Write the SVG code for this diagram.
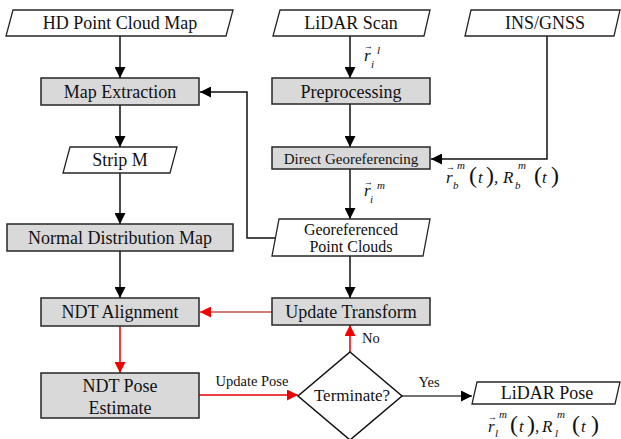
<svg xmlns="http://www.w3.org/2000/svg" width="621" height="439" viewBox="0 0 621 439" font-family="'Liberation Serif', 'DejaVu Serif', serif">
<style>
.box{fill:#d9d9d9;stroke:#262626;stroke-width:1.5}
.io{fill:#fff;stroke:#262626;stroke-width:1.3}
text{fill:#111}
.c{text-anchor:middle}
.f18{font-size:18px}
.f16{font-size:16px}
.f15{font-size:15px}
.f14{font-size:14.5px}
.mi{font-style:italic;font-size:17px}
.ms{font-style:italic;font-size:11px}
.pa{font-size:24px}
.va{font-size:9px}
.ln{fill:none;stroke:#111;stroke-width:1.5}
.rd{fill:none;stroke:#e60000;stroke-width:1.5}
</style>
<defs>
<marker id="ab" viewBox="0 0 12 11" refX="11" refY="5.5" markerWidth="12" markerHeight="11" orient="auto" markerUnits="userSpaceOnUse"><path d="M0,0 L11,5.5 L0,11 z" fill="#000"/></marker>
<marker id="ar" viewBox="0 0 12 11" refX="11" refY="5.5" markerWidth="12" markerHeight="11" orient="auto" markerUnits="userSpaceOnUse"><path d="M0,0 L11,5.5 L0,11 z" fill="#f00000"/></marker>
</defs>

<g id="connectors">
<line class="ln" x1="120" y1="36" x2="120" y2="78" marker-end="url(#ab)"/>
<line class="ln" x1="350" y1="36" x2="350" y2="78" marker-end="url(#ab)"/>
<polyline class="ln" points="547,36 547,159 431,159" marker-end="url(#ab)"/>
<line class="ln" x1="350" y1="104" x2="350" y2="147" marker-end="url(#ab)"/>
<line class="ln" x1="350" y1="169" x2="350" y2="219" marker-end="url(#ab)"/>
<line class="ln" x1="350" y1="256" x2="350" y2="298" marker-end="url(#ab)"/>
<polyline class="ln" points="275,238 247,238 247,92 200,92" marker-end="url(#ab)"/>
<line class="ln" x1="120" y1="105" x2="120" y2="147" marker-end="url(#ab)"/>
<line class="ln" x1="120" y1="173" x2="120" y2="224" marker-end="url(#ab)"/>
<line class="ln" x1="120" y1="251" x2="120" y2="298" marker-end="url(#ab)"/>
<line class="rd" x1="120" y1="326" x2="120" y2="373" marker-end="url(#ar)"/>
<line class="rd" x1="199" y1="395" x2="298" y2="395" marker-end="url(#ar)"/>
<line class="rd" x1="350" y1="352" x2="350" y2="325" marker-end="url(#ar)"/>
<line class="rd" style="stroke:#c0504d" x1="272" y1="312" x2="200" y2="312" marker-end="url(#ar)"/>
<line class="ln" style="stroke:#444" x1="402" y1="396" x2="472" y2="396" marker-end="url(#ab)"/>
<text class="f14 c" x="252" y="386">Update Pose</text>
<text class="f14" x="362" y="343">No</text>
<text class="f14 c" x="429" y="387">Yes</text>
<!-- r_i^l -->
<text class="va" x="364" y="49">→</text>
<text class="mi" x="364" y="61">r</text>
<text class="ms" x="371" y="68">i</text>
<text class="ms" x="377" y="54">l</text>
<!-- r_i^m -->
<text class="va" x="364" y="185">→</text>
<text class="mi" x="364" y="196">r</text>
<text class="ms" x="370" y="203">i</text>
<text class="ms" x="377" y="189">m</text>
</g>

<g id="hd-map">
<polygon class="io" points="13,10 233,10 226,36 6,36"/>
<text class="f18 c" x="120" y="29">HD Point Cloud Map</text>
</g>
<g id="lidar-scan">
<polygon class="io" points="280,10 430,10 424,36 273,36"/>
<text class="f18 c" x="351" y="29">LiDAR Scan</text>
</g>
<g id="ins-gnss">
<polygon class="io" points="471,10 620,10 614,36 465,36"/>
<text class="f18 c" x="545" y="29">INS/GNSS</text>
<text class="va" x="446" y="170">→</text>
<text class="mi" x="446" y="183">r</text>
<text class="ms" x="453" y="189">b</text>
<text class="ms" x="457" y="169">m</text>
<text class="pa" x="469" y="183">(</text>
<text class="mi" x="478" y="183">t</text>
<text class="pa" x="486" y="183">)</text>
<text class="mi" x="494" y="183">,</text>
<text class="mi" x="503" y="183">R</text>
<text class="ms" x="515" y="189">b</text>
<text class="ms" x="518" y="169">m</text>
<text class="pa" x="534" y="183">(</text>
<text class="mi" x="542" y="183">t</text>
<text class="pa" x="551" y="183">)</text>
</g>
<g id="map-extraction">
<rect class="box" x="41" y="78" width="158" height="27"/>
<text class="f18 c" x="120" y="98">Map Extraction</text>
</g>
<g id="preprocessing">
<rect class="box" x="272" y="78" width="158" height="26"/>
<text class="f18 c" x="351" y="98">Preprocessing</text>
</g>
<g id="strip-m">
<polygon class="io" points="70,147 177,147 170,173 63,173"/>
<text class="f18 c" x="120" y="166">Strip M</text>
</g>
<g id="direct-georef">
<rect class="box" x="272" y="147" width="158" height="22"/>
<text class="f15 c" x="351" y="164">Direct Georeferencing</text>
</g>
<g id="ndm">
<rect class="box" x="7" y="224" width="226" height="27"/>
<text class="f18 c" x="120" y="244">Normal Distribution Map</text>
</g>
<g id="georef-pc">
<polygon class="io" points="279,219 430,219 423,256 272,256"/>
<text class="f16 c" x="351" y="235">Georeferenced</text>
<text class="f16 c" x="351" y="252">Point Clouds</text>
</g>
<g id="ndt-alignment">
<rect class="box" x="41" y="298" width="158" height="28"/>
<text class="f18 c" x="120" y="318">NDT Alignment</text>
</g>
<g id="update-transform">
<rect class="box" x="272" y="298" width="158" height="27"/>
<text class="f18 c" x="351" y="318">Update Transform</text>
</g>
<g id="ndt-pose">
<rect class="box" x="41" y="373" width="158" height="45"/>
<text class="f18 c" x="120" y="392">NDT Pose</text>
<text class="f18 c" x="120" y="414">Estimate</text>
</g>
<g id="terminate">
<polygon points="350,352 402,396 350,440 298,396" fill="#fff" stroke="#111" stroke-width="1.5"/>
<text class="c" style="font-size:17px" x="352" y="401">Terminate?</text>
</g>
<g id="lidar-pose">
<polygon class="io" points="477,382 620,382 615,404 472,404"/>
<text class="f18 c" x="547" y="399">LiDAR Pose</text>
<text class="va" x="488" y="420">→</text>
<text class="mi" x="488" y="432">r</text>
<text class="ms" x="495" y="437">l</text>
<text class="ms" x="499" y="418">m</text>
<text class="pa" x="510" y="432">(</text>
<text class="mi" x="519" y="432">t</text>
<text class="pa" x="527" y="432">)</text>
<text class="mi" x="535" y="432">,</text>
<text class="mi" x="542" y="432">R</text>
<text class="ms" x="555" y="437">l</text>
<text class="ms" x="557" y="418">m</text>
<text class="pa" x="572" y="432">(</text>
<text class="mi" x="581" y="432">t</text>
<text class="pa" x="591" y="432">)</text>
</g>
</svg>
